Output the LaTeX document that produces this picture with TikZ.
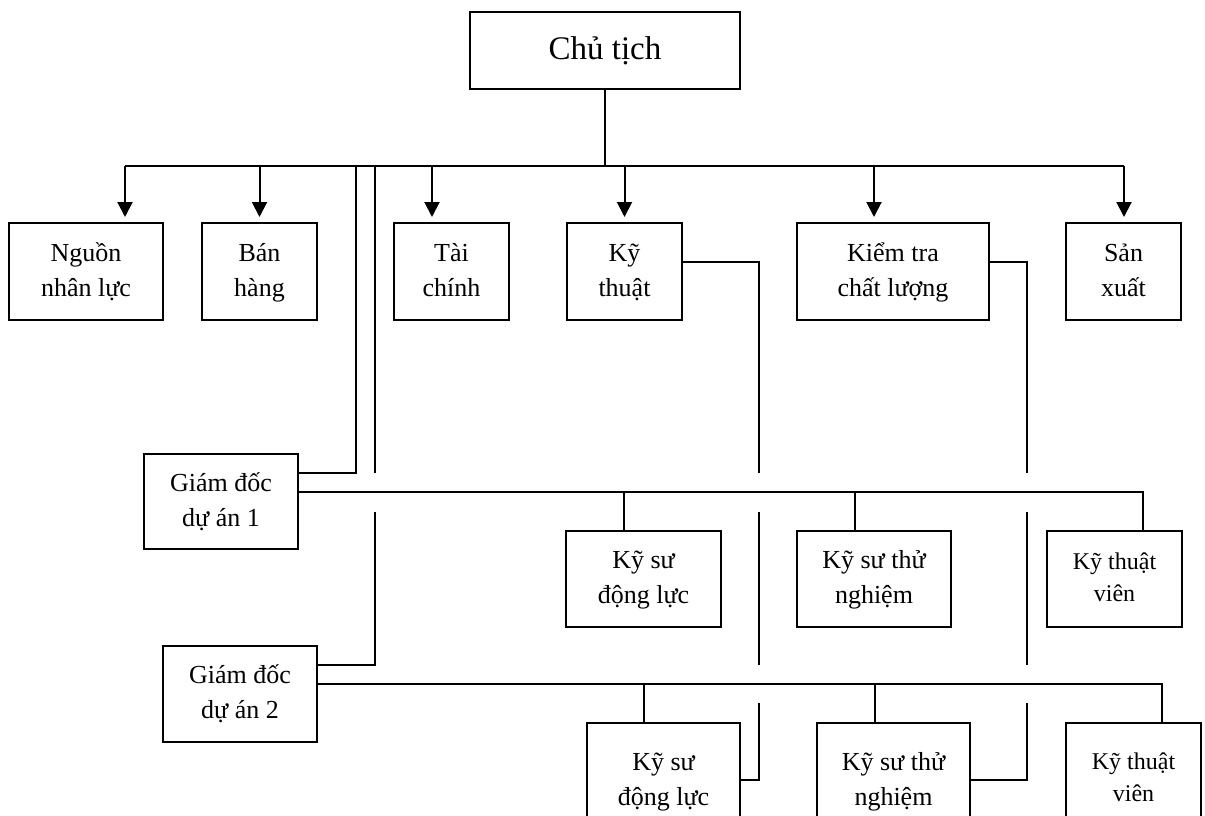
\documentclass[tikz,border=0pt]{standalone}
\usepackage{fontspec}
\setmainfont{Liberation Serif}
\usetikzlibrary{arrows.meta}
\newcommand\twol[2]{\strut #1\\\strut #2}
\begin{document}
\begin{tikzpicture}[x=1pt,y=-1pt,
  box/.style={draw,line width=2pt,rectangle,inner sep=0pt,align=center,
    font=\fontsize{26}{35}\selectfont},
  smallbox/.style={box,font=\fontsize{24}{32}\selectfont},
  conn/.style={line width=2pt},
  arr/.style={conn,-{Triangle[length=15pt,width=15pt]},shorten >=5pt}]
\useasboundingbox (0,0) rectangle (1205,816);
% boxes
\node[box,minimum width=270pt,minimum height=77pt,font=\fontsize{33}{38}\selectfont] (ct) at (605,50.5) {Chủ tịch};
\node[box,minimum width=154pt,minimum height=97pt] (nl) at (86,271.5) {\twol{Nguồn}{nhân lực}};
\node[box,minimum width=115pt,minimum height=97pt] (bh) at (259.5,271.5) {\twol{Bán}{hàng}};
\node[box,minimum width=115pt,minimum height=97pt] (tc) at (451.5,271.5) {\twol{Tài}{chính}};
\node[box,minimum width=115pt,minimum height=97pt] (kt) at (624.5,271.5) {\twol{Kỹ}{thuật}};
\node[box,minimum width=192pt,minimum height=97pt] (kq) at (893,271.5) {\twol{Kiểm tra}{chất lượng}};
\node[box,minimum width=115pt,minimum height=97pt] (sx) at (1123.5,271.5) {\twol{Sản}{xuất}};
\node[box,minimum width=154pt,minimum height=95pt] (gd1) at (221,501.5) {\twol{Giám đốc}{dự án 1}};
\node[box,minimum width=154pt,minimum height=96pt] (gd2) at (240,694) {\twol{Giám đốc}{dự án 2}};
\node[box,minimum width=155pt,minimum height=96pt] (ks1) at (643.5,579) {\twol{Kỹ sư}{động lực}};
\node[box,minimum width=154pt,minimum height=96pt] (tn1) at (874,579) {\twol{Kỹ sư thử}{nghiệm}};
\node[smallbox,minimum width=135pt,minimum height=96pt] (tv1) at (1114.5,579) {\twol{Kỹ thuật}{viên}};
\node[box,minimum width=153pt,minimum height=115pt] (ks2) at (663.5,780.5) {\twol{Kỹ sư}{động lực}};
\node[box,minimum width=153pt,minimum height=115pt] (tn2) at (893.5,780.5) {\twol{Kỹ sư thử}{nghiệm}};
\node[smallbox,minimum width=135pt,minimum height=113pt] (tv2) at (1133.5,779.5) {\twol{Kỹ thuật}{viên}};
% top bar
\coordinate (jt) at (605,166);
\coordinate (a1) at (125,166);
\coordinate (a2) at (259.5,166);
\coordinate (a3) at (432,166);
\coordinate (a4) at (624.5,166);
\coordinate (a5) at (874,166);
\coordinate (a6) at (1124,166);
\draw[conn] (ct.south) -- (jt);
\draw[conn] (a1) -- (a6);
\draw[arr] (a1) -- (a1 |- nl.north);
\draw[arr] (a2) -- (a2 |- bh.north);
\draw[arr] (a3) -- (a3 |- tc.north);
\draw[arr] (a4) -- (a4 |- kt.north);
\draw[arr] (a5) -- (a5 |- kq.north);
\draw[arr] (a6) -- (a6 |- sx.north);
% project director links
\coordinate (p1) at (356,166);
\coordinate (p1b) at (356,473);
\draw[conn] (p1) -- (p1b) -- (p1b -| gd1.east);
\coordinate (p2) at (375,166);
\coordinate (p2a) at (375,473);
\coordinate (p2b) at (375,512);
\coordinate (p2c) at (375,665);
\draw[conn] (p2) -- (p2a);
\draw[conn] (p2b) -- (p2c) -- (p2c -| gd2.east);
% GD1 bar
\coordinate (b1) at (1143,492);
\coordinate (d11) at (624,492);
\coordinate (d12) at (855,492);
\draw[conn] (gd1.east |- b1) -- (b1) -- (b1 |- tv1.north);
\draw[conn] (d11) -- (d11 |- ks1.north);
\draw[conn] (d12) -- (d12 |- tn1.north);
% GD2 bar
\coordinate (b2) at (1162,684);
\coordinate (d21) at (644,684);
\coordinate (d22) at (875,684);
\draw[conn] (gd2.east |- b2) -- (b2) -- (b2 |- tv2.north);
\draw[conn] (d21) -- (d21 |- ks2.north);
\draw[conn] (d22) -- (d22 |- tn2.north);
% Ky thuat line
\coordinate (k1) at (759,262);
\coordinate (k2) at (759,473);
\coordinate (k3) at (759,512);
\coordinate (k4) at (759,665);
\coordinate (k5) at (759,703);
\coordinate (k6) at (759,780);
\draw[conn] (kt.east |- k1) -- (k1) -- (k2);
\draw[conn] (k3) -- (k4);
\draw[conn] (k5) -- (k6) -- (k6 -| ks2.east);
% Kiem tra line
\coordinate (q1) at (1027,262);
\coordinate (q2) at (1027,473);
\coordinate (q3) at (1027,512);
\coordinate (q4) at (1027,665);
\coordinate (q5) at (1027,703);
\coordinate (q6) at (1027,780);
\draw[conn] (kq.east |- q1) -- (q1) -- (q2);
\draw[conn] (q3) -- (q4);
\draw[conn] (q5) -- (q6) -- (q6 -| tn2.east);
\end{tikzpicture}
\end{document}
